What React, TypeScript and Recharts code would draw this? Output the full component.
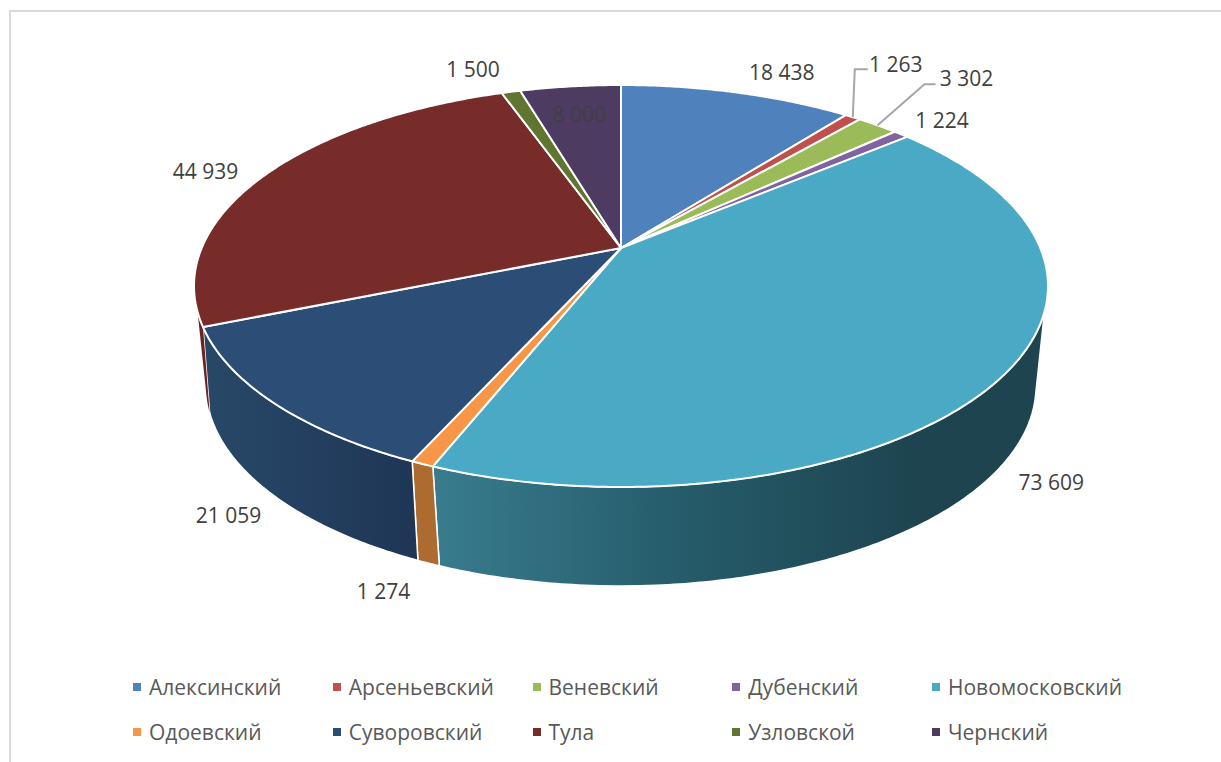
import React from 'react';
import { PieChart, Pie, Legend } from 'recharts';

// Districts and their totals, clockwise from twelve o'clock.
const districts = ['Алексинский', 'Арсеньевский', 'Веневский', 'Дубенский', 'Новомосковский', 'Одоевский', 'Суворовский', 'Тула', 'Узловской', 'Чернский'];
const totals = [18438, 1263, 3302, 1224, 73609, 1274, 21059, 44939, 1500, 8000];
const faceColors = ['#4f81bd', '#c0504d', '#9bbb59', '#8064a2', '#4aaac5', '#f79646', '#2c4d75', '#772c2a', '#5f7530', '#4d3b62'];

const rows = districts.map((name, i) => ({ name, value: totals[i], fill: faceColors[i] }));

// Label placement relative to the slice's point on the rim.
const labelShift: Record<string, [number, number]> = {
  'Алексинский': [45, -21],
  'Арсеньевский': [43, -53],
  'Веневский': [89, -47],
  'Дубенский': [41, -14],
  'Новомосковский': [48, 106],
  'Одоевский': [-39, 127],
  'Суворовский': [-45, 112],
  'Тула': [-60, -4],
  'Узловской': [-38, -23],
  'Чернский': [9, 28],
};

// Elbow leaders for the two thinnest labelled slices near the top right.
const leaderElbow: Record<string, [number, number][]> = {
  'Арсеньевский': [[2, -48], [15, -48]],
  'Веневский': [[47, -41], [58, -41]],
};

// Perspective of the pie: upper rim ellipse, lower rim ellipse, tilt of the disc.
const CX = 621;
const TOP = { cy: 286, rx: 427, ry: 201 };
const BOTTOM = { cy: 386, rx: 415, ry: 200 };
const TILT = -0.189;
const WALL_FROM = 108.1;
const WALL_TO = 251.9;

const clockwise = (recAngle: number) => 90 - recAngle;

function onDisc(theta: number, radius = 1) {
  const t = (theta * Math.PI) / 180;
  const x = Math.sin(t) * radius;
  const y = -Math.cos(t) * radius;
  const d = 1 + TILT * y;
  return { u: (x * Math.sqrt(1 - TILT * TILT)) / d, v: (y + TILT) / d };
}

function topPoint(theta: number): [number, number] {
  const { u, v } = onDisc(theta);
  return [CX + TOP.rx * u, TOP.cy + TOP.ry * v];
}

function bottomPoint(theta: number): [number, number] {
  const { u, v } = onDisc(theta);
  const sag = 1 - v * v;
  const v2 = Math.min(1, v - 0.08 * sag * sag + 0.005 * v);
  const u2 = Math.sign(u) * Math.sqrt(Math.max(0, 1 - v2 * v2));
  return [CX + BOTTOM.rx * u2, BOTTOM.cy + BOTTOM.ry * v2];
}

function arc(from: number, to: number, at: (t: number) => [number, number]) {
  const n = Math.max(2, Math.ceil(Math.abs(to - from) * 2));
  const out: [number, number][] = [];
  for (let i = 0; i <= n; i++) out.push(at(from + ((to - from) * i) / n));
  return out;
}

const toPath = (pts: [number, number][]) =>
  'M' + pts.map((p) => `${p[0].toFixed(2)},${p[1].toFixed(2)}`).join('L') + 'Z';

function FaceShape(props: any) {
  const rim = arc(clockwise(props.startAngle), clockwise(props.endAngle), topPoint);
  const apex = onDisc(0, 0);
  const hub: [number, number] = [CX + TOP.rx * apex.u, TOP.cy + TOP.ry * apex.v];
  return <path d={toPath([hub, ...rim])} fill={props.fill} stroke="#fff" strokeWidth={2} strokeLinejoin="round" />;
}

function wallPaint(name: string) {
  if (name === 'Новомосковский') return 'url(#wall-nov)';
  if (name === 'Суворовский') return 'url(#wall-suv)';
  if (name === 'Одоевский') return '#ad6b30';
  if (name === 'Тула') return '#6a2424';
  return 'none';
}

function WallShape(props: any) {
  const a = Math.max(clockwise(props.startAngle), WALL_FROM);
  const b = Math.min(clockwise(props.endAngle), WALL_TO);
  if (b <= a) return null;
  const pts = [...arc(a, b, topPoint), ...arc(b, a, bottomPoint)];
  // The narrow Тула strip sits behind the white edge of its neighbour.
  const edge = props.name === 'Тула' ? 'none' : '#fff';
  return <path d={toPath(pts)} fill={wallPaint(props.name)} stroke={edge} strokeWidth={1.5} strokeLinejoin="round" />;
}

const spaced = (v: number) => String(v).replace(/\B(?=(\d{3})+$)/g, ' ');

function SliceLabel(props: any) {
  const [rx, ry] = topPoint(clockwise(props.midAngle));
  const [dx, dy] = labelShift[props.name] ?? [0, 0];
  const elbow = leaderElbow[props.name];
  return (
    <g>
      {elbow && (
        <polyline
          points={[[rx, ry], ...elbow.map(([ex, ey]) => [rx + ex, ry + ey])].map((p) => p.join(',')).join(' ')}
          fill="none"
          stroke="#a6a6a6"
          strokeWidth={2}
        />
      )}
      <text x={rx + dx} y={ry + dy} textAnchor="middle" dominantBaseline="central" fontFamily="'Open Sans', sans-serif" fontSize={21} fill="#404040">
        {spaced(props.value)}
      </text>
    </g>
  );
}

function LegendGrid({ payload }: any) {
  // Both pies feed the legend; each district is listed once.
  const seen = new Set<string>();
  const entries = (payload ?? []).filter((entry: any) => {
    if (seen.has(entry.value)) return false;
    seen.add(entry.value);
    return true;
  });
  return (
    <div style={{ display: 'grid', gridTemplateColumns: 'repeat(5, 199.75px)', gridAutoRows: '45px', fontFamily: "'Open Sans', sans-serif", fontSize: 21, color: '#595959' }}>
      {entries.map((entry: any) => (
        <div key={entry.value} style={{ display: 'flex', alignItems: 'center', whiteSpace: 'nowrap' }}>
          <span style={{ width: 8, height: 8, background: entry.color, marginRight: 8, flex: 'none' }} />
          {entry.value}
        </div>
      ))}
    </div>
  );
}

export default function App() {
  return (
    <div style={{ position: 'absolute', left: 0, top: 0, width: 1221, height: 762, background: '#fff', overflow: 'hidden' }}>
      <div style={{ position: 'absolute', left: 9, top: 10, width: 1300, height: 800, borderLeft: '2px solid #d9d9d9', borderTop: '2px solid #d9d9d9' }} />
      <PieChart width={1221} height={762} style={{ position: 'absolute', left: 0, top: 0 }}>
        <defs>
          <linearGradient id="wall-nov" gradientUnits="userSpaceOnUse" x1="435" y1="0" x2="920" y2="0">
            <stop offset="0" stopColor="#387c8e" />
            <stop offset="0.5" stopColor="#265c6b" />
            <stop offset="1" stopColor="#1d444f" />
          </linearGradient>
          <linearGradient id="wall-suv" gradientUnits="userSpaceOnUse" x1="205" y1="0" x2="415" y2="0">
            <stop offset="0" stopColor="#284868" />
            <stop offset="1" stopColor="#1f3656" />
          </linearGradient>
        </defs>
        <Pie
          data={rows}
          dataKey="value"
          nameKey="name"
          cx={CX}
          cy={248}
          outerRadius={200}
          startAngle={90}
          endAngle={-270}
          legendType="none"
          shape={WallShape}
          isAnimationActive={false}
        />
        <Pie
          data={rows}
          dataKey="value"
          nameKey="name"
          cx={CX}
          cy={248}
          outerRadius={200}
          startAngle={90}
          endAngle={-270}
          shape={FaceShape}
          label={SliceLabel}
          labelLine={false}
          isAnimationActive={false}
        />
        <Legend
          layout="horizontal"
          content={<LegendGrid />}
          wrapperStyle={{ position: 'absolute', left: 133, top: 664, width: 1000, bottom: 'auto' }}
        />
      </PieChart>
    </div>
  );
}
